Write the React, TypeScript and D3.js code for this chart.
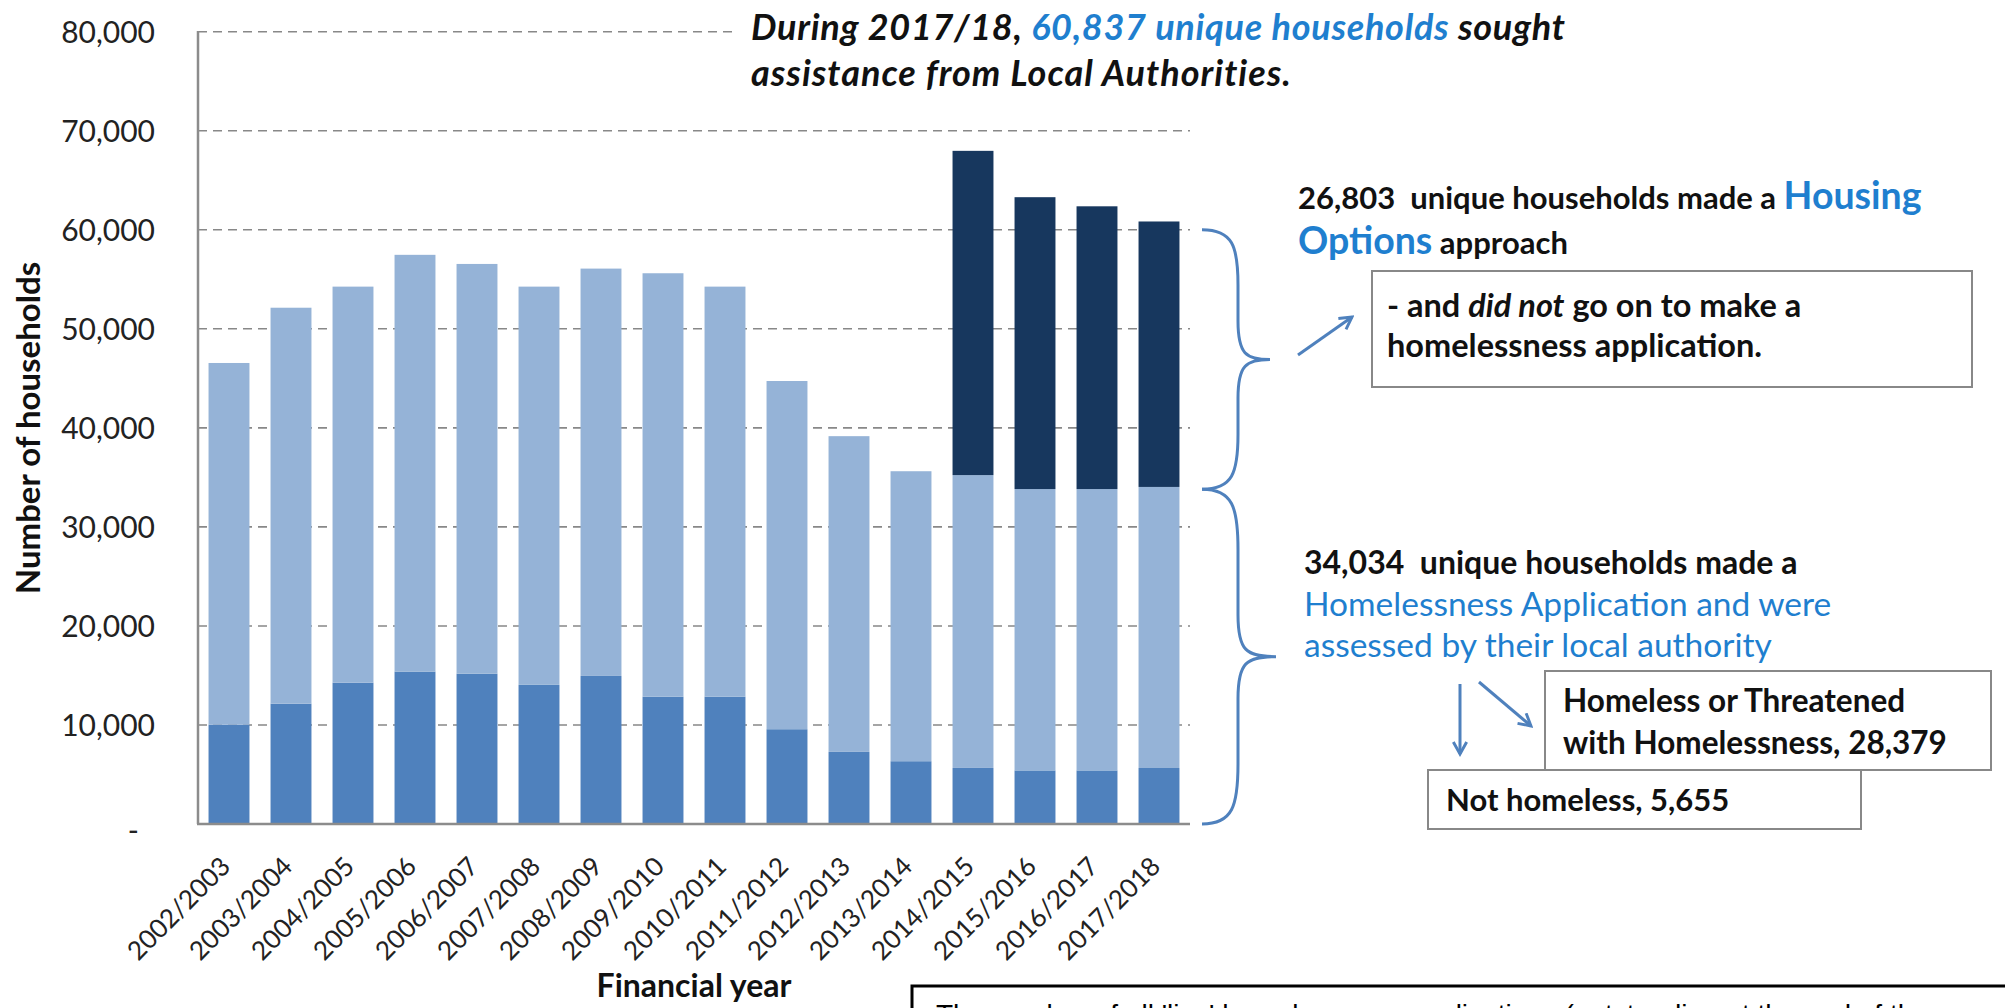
import { useEffect, useRef } from "react";
import * as d3 from "d3";

const years = [
  "2002/2003", "2003/2004", "2004/2005", "2005/2006", "2006/2007", "2007/2008",
  "2008/2009", "2009/2010", "2010/2011", "2011/2012", "2012/2013", "2013/2014",
  "2014/2015", "2015/2016", "2016/2017", "2017/2018",
];
// medium blue: assessed, not homeless
const notHomeless = [10020, 12150, 14270, 15390, 15170, 14050, 14950, 12850, 12850, 9570, 7280, 6340, 5660, 5410, 5410, 5655];
// light blue: homeless or threatened with homelessness
const homeless = [36530, 39980, 39990, 42080, 41380, 40210, 41130, 42760, 41410, 35160, 31880, 29280, 29570, 28410, 28410, 28379];
// navy: housing options approach only
const housingOptions = [0, 0, 0, 0, 0, 0, 0, 0, 0, 0, 0, 0, 32740, 29470, 28550, 26803];

const yTicks = [10000, 20000, 30000, 40000, 50000, 60000, 70000, 80000];
const braceStops = [60000, 33800, 0];

const FONT = "Lato, 'Open Sans', sans-serif";
const BLUE_TXT = "#1f7fcf";

type Seg = { t: string; fill?: string; size?: number; style?: string; weight?: number };

export default function App() {
  const svgRef = useRef<SVGSVGElement>(null);

  useEffect(() => {
    document.body.style.margin = "0";
    document.body.style.overflow = "hidden";
    if (!svgRef.current) return;
    const svg = d3.select(svgRef.current);
    svg.selectAll("*").remove();

    const x = d3.scaleBand().domain(years).range([198, 1190]).paddingInner(0.34).paddingOuter(0.17);
    const y = d3.scaleLinear().domain([0, 80000]).range([824, 31.7]);

    // arrow marker
    svg
      .append("defs")
      .append("marker")
      .attr("id", "arr")
      .attr("viewBox", "0 0 12 12")
      .attr("refX", 10)
      .attr("refY", 6)
      .attr("markerWidth", 16)
      .attr("markerHeight", 16)
      .attr("markerUnits", "userSpaceOnUse")
      .attr("orient", "auto")
      .append("path")
      .attr("d", "M1,1 L10,6 L1,11")
      .attr("fill", "none")
      .attr("stroke", "#4F81BD")
      .attr("stroke-width", 2.2);

    // gridlines
    svg
      .append("g")
      .selectAll("line")
      .data(yTicks)
      .enter()
      .append("line")
      .attr("x1", 198)
      .attr("x2", 1190)
      .attr("y1", (d) => y(d))
      .attr("y2", (d) => y(d))
      .attr("stroke", "#888")
      .attr("stroke-width", 1.6)
      .attr("stroke-dasharray", "9,6");

    // tick labels
    svg
      .append("g")
      .selectAll("text")
      .data(yTicks)
      .enter()
      .append("text")
      .attr("x", 155)
      .attr("y", (d) => y(d))
      .attr("dy", "0.36em")
      .attr("text-anchor", "end")
      .attr("font-family", FONT)
      .attr("font-size", 30)
      .attr("fill", "#222")
      .text((d) => d3.format(",")(d));
    svg
      .append("text")
      .attr("x", 139)
      .attr("y", y(0) + 6)
      .attr("dy", "0.36em")
      .attr("text-anchor", "end")
      .attr("font-family", FONT)
      .attr("font-size", 30)
      .attr("fill", "#222")
      .text("-");

    // stacked bars
    const rows = years.map((yr, i) => ({
      year: yr,
      notHomeless: notHomeless[i],
      homeless: homeless[i],
      housingOptions: housingOptions[i],
    }));
    const keys = ["notHomeless", "homeless", "housingOptions"];
    const colors: Record<string, string> = {
      notHomeless: "#4F81BD",
      homeless: "#95B3D7",
      housingOptions: "#17375E",
    };
    const stacked = d3.stack<any>().keys(keys)(rows);
    svg
      .append("g")
      .selectAll("g")
      .data(stacked)
      .enter()
      .append("g")
      .attr("fill", (s) => colors[s.key])
      .selectAll("rect")
      .data((s) => s.filter((d) => d[1] > d[0]))
      .enter()
      .append("rect")
      .attr("x", (d) => x(d.data.year) ?? 0)
      .attr("width", x.bandwidth())
      .attr("y", (d) => y(d[1]))
      .attr("height", (d) => y(d[0]) - y(d[1]));

    // axes
    svg.append("line").attr("x1", 198).attr("x2", 198).attr("y1", 31).attr("y2", 824)
      .attr("stroke", "#8c8c8c").attr("stroke-width", 2.5);
    svg.append("line").attr("x1", 197).attr("x2", 1190).attr("y1", 824).attr("y2", 824)
      .attr("stroke", "#8c8c8c").attr("stroke-width", 2.5);

    // x labels
    svg
      .append("g")
      .selectAll("text")
      .data(years)
      .enter()
      .append("text")
      .attr("transform", (d) => `translate(${(x(d) ?? 0) + x.bandwidth() / 2 + 3},${868}) rotate(-45)`)
      .attr("text-anchor", "end")
      .attr("font-family", FONT)
      .attr("font-size", 26)
      .attr("fill", "#222")
      .text((d) => d);

    // axis titles
    svg.append("text").attr("x", 694).attr("y", 997).attr("text-anchor", "middle")
      .attr("font-family", FONT).attr("font-weight", 700).attr("font-size", 32).attr("fill", "#111")
      .text("Financial year");
    svg.append("text").attr("transform", "translate(40,428) rotate(-90)").attr("text-anchor", "middle")
      .attr("font-family", FONT).attr("font-weight", 700).attr("font-size", 33).attr("fill", "#111")
      .text("Number of households");

    // helper for rich text lines
    const richLine = (xp: number, yp: number, segs: Seg[], base: Partial<Seg> & { ls?: number } = {}) => {
      const t = svg.append("text").attr("x", xp).attr("y", yp)
        .attr("font-family", FONT).attr("font-weight", base.weight ?? 700)
        .attr("font-size", base.size ?? 28).attr("fill", "#111")
        .attr("font-style", base.style ?? "normal")
        .attr("letter-spacing", base.ls ?? 0);
      segs.forEach((s) => {
        const ts = t.append("tspan").text(s.t);
        if (s.fill) ts.attr("fill", s.fill);
        if (s.size) ts.attr("font-size", s.size);
        if (s.style) ts.attr("font-style", s.style);
        if (s.weight) ts.attr("font-weight", s.weight);
      });
      return t;
    };

    // title
    svg.append("rect").attr("x", 738).attr("y", 8).attr("width", 880).attr("height", 95).attr("fill", "#fff");
    richLine(751, 40, [
      { t: "During 2017/18, " },
      { t: "60,837 unique households", fill: BLUE_TXT },
      { t: " sought" },
    ], { size: 36, style: "italic", ls: 0.7 });
    richLine(751, 86, [{ t: "assistance from Local Authorities." }], { size: 36, style: "italic", ls: 1 });

    // braces
    const brace = (ya: number, yb: number, x0: number, s: number, w: number, r: number) => {
      const mid = (ya + yb) / 2;
      return `M${x0},${ya} C${x0 + s * 0.85},${ya} ${x0 + s},${ya + r * 0.3} ${x0 + s},${ya + r}
        L${x0 + s},${mid - r * 0.7} C${x0 + s},${mid - r * 0.1} ${x0 + s + 8},${mid} ${x0 + w},${mid}
        C${x0 + s + 8},${mid} ${x0 + s},${mid + r * 0.1} ${x0 + s},${mid + r * 0.7}
        L${x0 + s},${yb - r} C${x0 + s},${yb - r * 0.3} ${x0 + s * 0.85},${yb} ${x0},${yb}`;
    };
    svg.append("path").attr("d", brace(y(braceStops[0]), y(braceStops[1]), 1202, 36, 68, 55))
      .attr("fill", "none").attr("stroke", "#4F81BD").attr("stroke-width", 3);
    svg.append("path").attr("d", brace(y(braceStops[1]), y(braceStops[2]), 1202, 36, 74, 60))
      .attr("fill", "none").attr("stroke", "#4F81BD").attr("stroke-width", 3);

    // annotation 1
    richLine(1298, 209, [
      { t: "26,803\u00a0 unique households made a " },
      { t: "Housing", fill: BLUE_TXT, size: 37.5 },
    ], { size: 31 });
    richLine(1298, 254, [
      { t: "Options", fill: BLUE_TXT, size: 37.5 },
      { t: " approach" },
    ], { size: 31 });
    svg.append("rect").attr("x", 1372).attr("y", 271).attr("width", 600).attr("height", 116)
      .attr("fill", "#fff").attr("stroke", "#888").attr("stroke-width", 2);
    richLine(1387, 317, [
      { t: "- and " },
      { t: "did not", style: "italic" },
      { t: " go on to make a" },
    ], { size: 32.5 });
    richLine(1387, 357, [{ t: "homelessness application." }], { size: 32.5 });

    // annotation 2
    richLine(1304, 574, [{ t: "34,034\u00a0 unique households made a" }], { size: 32 });
    richLine(1304, 616, [{ t: "Homelessness Application and were", fill: BLUE_TXT }], { size: 33.5, weight: 400 });
    richLine(1304, 657, [{ t: "assessed by their local authority", fill: BLUE_TXT }], { size: 33.5, weight: 400 });

    svg.append("rect").attr("x", 1545).attr("y", 671).attr("width", 446).attr("height", 99)
      .attr("fill", "#fff").attr("stroke", "#888").attr("stroke-width", 2);
    richLine(1563, 712, [{ t: "Homeless or Threatened" }], { size: 31.5 });
    richLine(1563, 754, [{ t: "with Homelessness, 28,379" }], { size: 31.5 });
    svg.append("rect").attr("x", 1428).attr("y", 770).attr("width", 433).attr("height", 59)
      .attr("fill", "#fff").attr("stroke", "#888").attr("stroke-width", 2);
    richLine(1446, 811, [{ t: "Not homeless, 5,655" }], { size: 31 });

    // arrows
    const arrows = [
      [1298, 355, 1352, 317],
      [1460, 684, 1460, 754],
      [1479, 682, 1531, 726],
    ];
    svg.append("g").selectAll("line").data(arrows).enter().append("line")
      .attr("x1", (d) => d[0]).attr("y1", (d) => d[1]).attr("x2", (d) => d[2]).attr("y2", (d) => d[3])
      .attr("stroke", "#4F81BD").attr("stroke-width", 3).attr("marker-end", "url(#arr)");

    // bottom box (cut off by page edge, as in the source)
    svg.append("rect").attr("x", 912).attr("y", 986).attr("width", 1200).attr("height", 100)
      .attr("fill", "#fff").attr("stroke", "#000").attr("stroke-width", 3);
    svg.append("text").attr("x", 936).attr("y", 1024)
      .attr("font-family", "'Liberation Sans', Arial, sans-serif").attr("font-size", 28).attr("fill", "#000")
      .text("The number of all 'live' homelessness applications (outstanding at the end of the");
  }, []);

  return <svg ref={svgRef} width={2005} height={1008} style={{ display: "block", background: "#fff" }} />;
}
